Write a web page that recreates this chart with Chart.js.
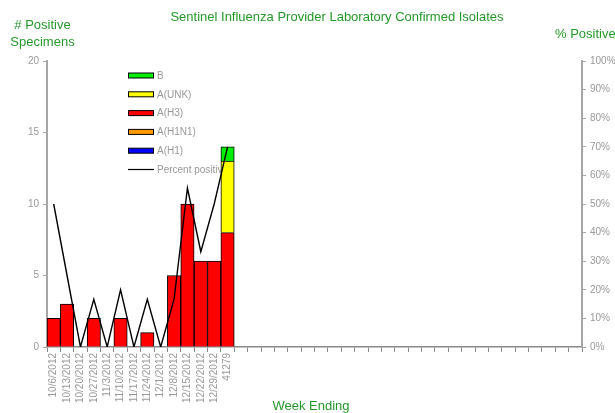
<!DOCTYPE html>
<html>
<head>
<meta charset="utf-8">
<script src="https://cdn.jsdelivr.net/npm/chart.js@4/dist/chart.umd.min.js"></script>
<style>
html,body{margin:0;padding:0;background:#fff;}
#wrap{width:615px;height:413px;position:relative;}
</style>
</head>
<body>
<div id="wrap"><canvas id="c" width="615" height="413"></canvas></div>
<script>
// ---- data ----
const weekLabels = ["10/6/2012","10/13/2012","10/20/2012","10/27/2012","11/3/2012","11/10/2012","11/17/2012","11/24/2012","12/1/2012","12/8/2012","12/15/2012","12/22/2012","12/29/2012","41279"];
const emptyWeeks = 26;
const valsH1   = [0,0,0,0,0,0,0,0,0,0,0,0,0,0];
const valsH1N1 = [0,0,0,0,0,0,0,0,0,0,0,0,0,0];
const valsH3   = [2,3,0,2,0,2,0,1,0,5,10,6,6,8];
const valsUNK  = [0,0,0,0,0,0,0,0,0,0,0,0,0,5];
const valsB    = [0,0,0,0,0,0,0,0,0,0,0,0,0,1];
const pctPositive = [50,25,0,16.7,0,20,0,16.7,0,16.7,55.6,33.3,50,70];
const leftTicks = [0,5,10,15,20];
const rightTicks = [0,10,20,30,40,50,60,70,80,90,100];

const titleText = "Sentinel Influenza Provider Laboratory Confirmed Isolates";
const leftTitle = ["# Positive","Specimens"];
const rightTitle = "% Positive";
const xTitle = "Week Ending";

const labels = weekLabels.concat(Array(emptyWeeks).fill(""));
const GREEN = "#25992a";
const GREY = "#999999";
const AXIS = "#a6a6a6";
const FONT = "'Liberation Sans', Arial, sans-serif";

const barDs = (label, data, color) => ({
  type: 'bar', label, data, backgroundColor: color, borderColor: '#000', borderWidth: 1,
  stack: 's', yAxisID: 'y', barPercentage: 1, categoryPercentage: 1, order: 2
});

const legendOrder = ["B","A(UNK)","A(H3)","A(H1N1)","A(H1)","Percent positive"];

const overlay = {
  id: 'overlay',
  beforeDatasetsDraw(chart) {
    const ctx = chart.ctx;
    ctx.save();
    // legend
    const ds = chart.data.datasets;
    let y = 75.5;
    legendOrder.forEach(name => {
      const d = ds.find(x => x.label === name);
      if (d.type === 'line') {
        ctx.strokeStyle = '#000'; ctx.lineWidth = 1.2;
        ctx.beginPath(); ctx.moveTo(128, y); ctx.lineTo(154, y); ctx.stroke();
      } else {
        ctx.fillStyle = d.backgroundColor;
        ctx.fillRect(128.5, y - 2.5, 25, 5);
        ctx.strokeStyle = '#000'; ctx.lineWidth = 1;
        ctx.strokeRect(128.5, y - 2.5, 25, 5);
      }
      ctx.fillStyle = GREY;
      ctx.font = "10px " + FONT;
      ctx.textAlign = 'left'; ctx.textBaseline = 'middle';
      ctx.fillText(name, 157, y + 0.5);
      y += 18.8;
    });
    ctx.restore();
  },
  afterDraw(chart) {
    const ctx = chart.ctx;
    ctx.save();
    ctx.fillStyle = GREEN;
    ctx.font = "13px " + FONT;
    ctx.textBaseline = 'middle';
    ctx.textAlign = 'center';
    ctx.fillText(titleText, 337, 17.5);
    ctx.fillText(leftTitle[0], 42.5, 25.5);
    ctx.fillText(leftTitle[1], 42.5, 42);
    ctx.fillText(xTitle, 311, 406.5);
    ctx.textAlign = 'left';
    ctx.fillText(rightTitle, 555, 34.5);
    ctx.restore();
  }
};

new Chart(document.getElementById('c'), {
  data: {
    labels,
    datasets: [
      barDs("A(H1)", valsH1, '#0000ff'),
      barDs("A(H1N1)", valsH1N1, '#ff9900'),
      barDs("A(H3)", valsH3, '#ff0000'),
      barDs("A(UNK)", valsUNK, '#ffff00'),
      barDs("B", valsB, '#00ee00'),
      { type: 'line', label: "Percent positive", data: pctPositive, yAxisID: 'y1',
        borderColor: '#000', borderWidth: 1.4, pointRadius: 0, tension: 0, fill: false, order: 1 }
    ]
  },
  options: {
    responsive: false,
    animation: false,
    layout: { padding: { top: 61, left: 0, right: 0, bottom: 0 } },
    plugins: { legend: { display: false }, title: { display: false }, tooltip: { enabled: false } },
    scales: {
      x: {
        stacked: true,
        offset: true,
        grid: { display: true, drawOnChartArea: false, offset: true, tickLength: 5, color: '#888', tickWidth: 1 },
        border: { display: true, color: '#888', width: 1.5 },
        ticks: { autoSkip: false, maxRotation: 90, minRotation: 90, color: GREY, font: { size: 10, family: FONT }, padding: 1 },
        afterFit(s) { s.height = 66; }
      },
      y: {
        stacked: true, position: 'left', min: 0, max: 20,
        afterBuildTicks(s) { s.ticks = leftTicks.map(v => ({ value: v })); },
        grid: { display: true, drawOnChartArea: false, tickLength: 4, color: AXIS },
        border: { display: true, color: AXIS, width: 2 },
        ticks: { color: GREY, font: { size: 10, family: FONT }, padding: 4 },
        afterFit(s) { s.width = 47; }
      },
      y1: {
        position: 'right', min: 0, max: 100,
        afterBuildTicks(s) { s.ticks = rightTicks.map(v => ({ value: v })); },
        grid: { display: true, drawOnChartArea: false, tickLength: 4, color: AXIS },
        border: { display: true, color: AXIS, width: 2 },
        ticks: { color: GREY, font: { size: 10, family: FONT }, padding: 4, callback: v => v + '%' },
        afterFit(s) { s.width = 33; }
      }
    }
  },
  plugins: [overlay]
});
</script>
</body>
</html>
